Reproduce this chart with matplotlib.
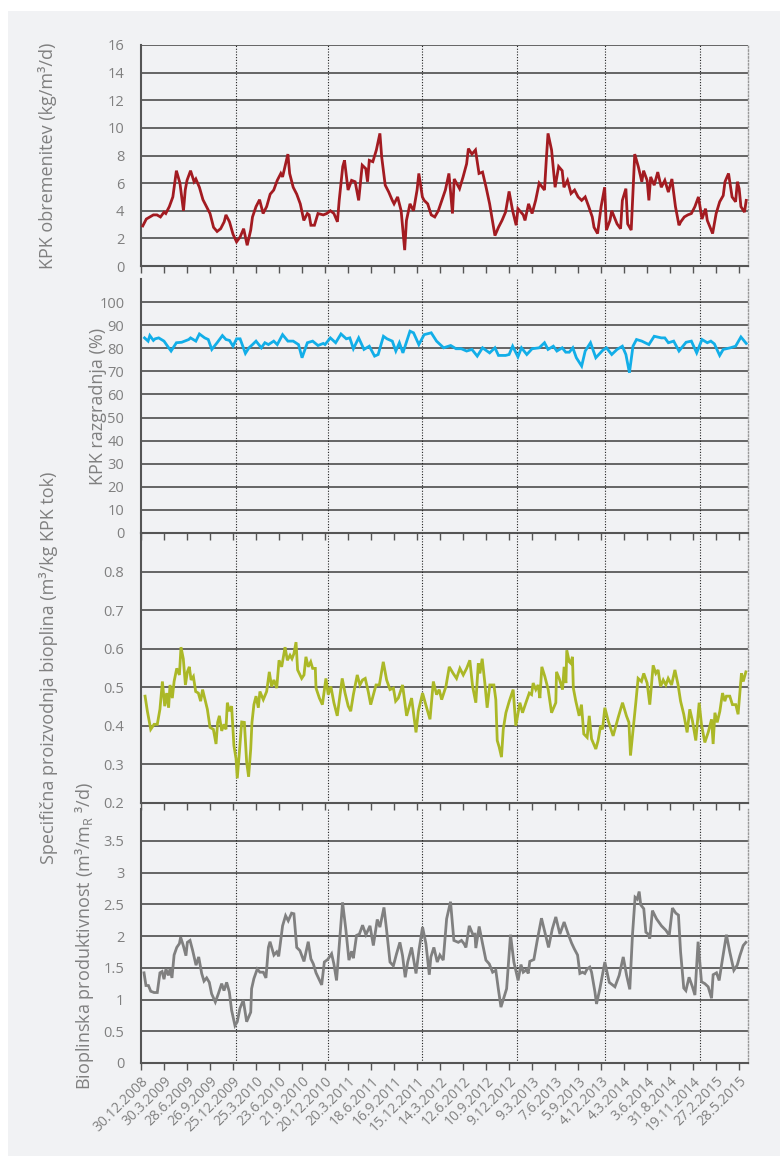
import matplotlib
matplotlib.use("Agg")
import matplotlib.pyplot as plt
from matplotlib.patches import Rectangle

plt.rcParams['font.family'] = ['Open Sans', 'DejaVu Sans']
plt.rcParams['mathtext.fontset'] = 'custom'
plt.rcParams['mathtext.rm'] = 'Open Sans'

# ---------------- data ----------------
tick_labels = ["30.12.2008", "30.3.2009", "28.6.2009", "26.9.2009", "25.12.2009",
               "25.3.2010", "23.6.2010", "21.9.2010", "20.12.2010", "20.3.2011",
               "18.6.2011", "16.9.2011", "15.12.2011", "14.3.2012", "12.6.2012",
               "10.9.2012", "9.12.2012", "9.3.2013", "7.6.2013", "5.9.2013",
               "4.12.2013", "4.3.2014", "3.6.2014", "31.8.2014", "19.11.2014",
               "27.2.2015", "28.5.2015"]
weeks_per_label = 13          # one label every 13 weekly samples
n_weeks = 343
year_marks = [53.9, 105.5, 159.0, 212.6, 262.2, 316.1]   # week index of new year

# (week, value) pairs
kpk_obremenitev = [
    (1, 2.9), (3, 3.4), (5, 3.55), (7, 3.7), (9, 3.7), (11, 3.55), (13, 3.9), (14, 3.8),
    (16, 4.3), (18, 5.0), (20, 6.9), (22, 6.0), (24, 4.0), (25, 5.5), (26, 6.2), (28, 6.9),
    (30, 6.1), (31, 6.3), (33, 5.7), (35, 4.8), (37, 4.3), (39, 3.8), (41, 2.8), (43, 2.5),
    (45, 2.7), (47, 3.2), (48, 3.7), (50, 3.2), (52, 2.3), (54, 1.75), (56, 2.1), (58, 2.7),
    (60, 1.5), (62, 2.6), (63, 3.55), (65, 4.3), (67, 4.8), (69, 3.8), (71, 4.3), (73, 5.2),
    (75, 5.5), (77, 6.2), (79, 6.7), (80, 6.45), (83, 8.1), (84, 6.7), (86, 5.7), (88, 5.2),
    (90, 4.5), (92, 3.3), (94, 3.8), (95, 3.7), (96, 2.95), (98, 2.95), (100, 3.8), (103, 3.7),
    (105, 3.8), (107, 4.0), (109, 3.8), (111, 3.2), (112, 4.75), (114, 7.2), (115, 7.65),
    (117, 5.5), (119, 6.2), (121, 6.1), (123, 4.75), (125, 7.3), (127, 7.05), (128, 6.1),
    (129, 7.65), (131, 7.55), (133, 8.4), (135, 9.6), (136, 7.9), (138, 5.85), (140, 5.35),
    (142, 4.75), (143, 4.5), (145, 5.0), (147, 4.0), (149, 1.15), (150, 3.3), (152, 4.5),
    (154, 4.0), (156, 5.5), (157, 6.7), (159, 5.0), (160, 4.75), (162, 4.5), (164, 3.7),
    (166, 3.55), (168, 4.0), (170, 4.75), (172, 5.5), (174, 6.7), (176, 3.8), (177, 6.3),
    (180, 5.6), (182, 6.45), (184, 7.4), (185, 8.5), (187, 8.1), (189, 8.4), (191, 6.7),
    (193, 6.8), (195, 5.7), (197, 4.5), (199, 2.95), (200, 2.2), (202, 2.8), (204, 3.3),
    (206, 3.9), (208, 5.4), (210, 4.0), (212, 2.95), (213, 4.15), (216, 3.7), (217, 3.3),
    (219, 4.5), (221, 3.8), (223, 4.75), (225, 6.0), (228, 5.5), (229, 7.65), (230, 9.6),
    (232, 8.4), (234, 5.7), (236, 7.2), (238, 6.9), (239, 5.7), (241, 6.2), (243, 5.25),
    (245, 5.5), (247, 5.0), (249, 4.75), (251, 5.0), (253, 4.3), (255, 3.55), (256, 2.8),
    (258, 2.35), (260, 4.3), (262, 5.7), (263, 2.6), (265, 3.3), (266, 4.0), (269, 3.05),
    (271, 2.7), (272, 4.75), (274, 5.6), (275, 3.05), (277, 2.6), (279, 8.1), (281, 7.2),
    (283, 6.1), (284, 6.9), (286, 6.2), (287, 4.75), (288, 6.45), (290, 5.85), (292, 6.8),
    (294, 5.7), (296, 6.2), (298, 5.35), (300, 6.3), (302, 4.3), (304, 2.95), (305, 3.2),
    (307, 3.55), (309, 3.7), (311, 3.8), (313, 4.3), (315, 5.0), (317, 3.4), (319, 4.15),
    (320, 3.3), (323, 2.35), (325, 3.8), (327, 4.65), (329, 5.1), (330, 6.1), (332, 6.7),
    (334, 5.0), (336, 4.65), (337, 6.1), (338, 5.6), (339, 4.3), (341, 3.9), (342, 4.75),
]

kpk_razgradnja = [
    (2, 84.5), (4, 83.1), (5, 85.5), (7, 83.4), (8, 84.1), (10, 84.5), (13, 83.1), (15, 80.9),
    (17, 78.8), (20, 82.4), (23, 82.6), (27, 83.8), (28, 84.5), (31, 83.1), (33, 86.2), (36, 84.5),
    (38, 83.8), (40, 79.5), (43, 82.4), (46, 85.5), (48, 83.8), (50, 83.4), (52, 80.9), (54, 84.1),
    (56, 84.1), (59, 77.8), (61, 80.2), (63, 81.6), (65, 83.1), (68, 80.2), (70, 82.4), (72, 81.6),
    (75, 83.1), (77, 81.6), (80, 85.9), (83, 83.1), (86, 83.1), (89, 81.6), (91, 75.9), (94, 82.4),
    (97, 83.1), (100, 81.2), (103, 82.1), (104, 81.6), (107, 84.5), (110, 82.4), (113, 86.2),
    (116, 84.1), (118, 84.5), (120, 79.8), (123, 84.5), (126, 79.5), (129, 80.9), (132, 76.6),
    (134, 77.3), (137, 85.2), (139, 84.1), (142, 83.1), (144, 78.8), (146, 82.4), (148, 78.0),
    (152, 87.4), (154, 86.7), (157, 81.6), (160, 85.9), (164, 86.7), (167, 83.1), (171, 80.2),
    (175, 81.2), (178, 79.8), (181, 79.8), (184, 78.8), (187, 79.5), (190, 76.6), (193, 80.2),
    (197, 78.0), (200, 80.2), (202, 76.9), (206, 76.9), (208, 77.3), (210, 80.9), (213, 76.3),
    (215, 80.2), (218, 77.3), (221, 79.8), (225, 80.2), (228, 82.4), (230, 79.5), (233, 80.9),
    (235, 78.8), (238, 80.2), (240, 78.3), (242, 78.3), (244, 80.2), (246, 75.9), (249, 72.3),
    (251, 78.8), (254, 82.4), (257, 75.9), (261, 79.2), (263, 80.2), (266, 77.3), (269, 79.5),
    (272, 80.9), (274, 77.3), (276, 69.4), (278, 80.9), (280, 83.8), (283, 83.1), (287, 81.6),
    (290, 85.2), (294, 84.5), (296, 84.5), (298, 82.4), (301, 83.1), (304, 78.8), (308, 82.6),
    (311, 83.1), (314, 78.0), (317, 83.8), (320, 82.4), (322, 83.1), (324, 81.9), (327, 76.9),
    (329, 79.5), (333, 80.2), (336, 80.9), (339, 84.9), (342, 82.1),
]

spec_proizvodnja = [
    (2.3, 0.477), (3.6, 0.438), (5.5, 0.391), (7.4, 0.404), (9.2, 0.404), (10.7, 0.443),
    (12.1, 0.515), (13.4, 0.451), (14.5, 0.485), (15.6, 0.447), (16.4, 0.506), (17.7, 0.472),
    (18.7, 0.515), (20.2, 0.549), (21.7, 0.532), (22.6, 0.604), (23.9, 0.574), (25.1, 0.506),
    (26.2, 0.540), (27.3, 0.553), (28.3, 0.519), (29.6, 0.528), (30.9, 0.489), (32.4, 0.485),
    (33.7, 0.464), (34.8, 0.494), (36.2, 0.468), (37.5, 0.443), (39.0, 0.396), (40.9, 0.391),
    (42.4, 0.353), (43.3, 0.409), (44.3, 0.426), (45.6, 0.387), (46.9, 0.404), (48.0, 0.391),
    (48.8, 0.460), (49.9, 0.438), (51.2, 0.451), (52.5, 0.349), (53.7, 0.315), (54.4, 0.264),
    (55.6, 0.332), (56.9, 0.410), (58.4, 0.409), (59.7, 0.306), (60.8, 0.268), (62.0, 0.340),
    (62.7, 0.409), (63.8, 0.455), (65.0, 0.477), (66.3, 0.447), (67.2, 0.489), (69.1, 0.468),
    (71.0, 0.489), (72.5, 0.540), (73.8, 0.502), (75.1, 0.519), (76.7, 0.498), (78.0, 0.570),
    (79.5, 0.553), (81.4, 0.604), (82.7, 0.570), (84.2, 0.583), (85.3, 0.574), (86.4, 0.587),
    (87.6, 0.617), (88.5, 0.545), (90.8, 0.523), (92.1, 0.532), (93.2, 0.579), (94.5, 0.553),
    (95.9, 0.566), (97.0, 0.549), (98.5, 0.549), (98.9, 0.498), (100.8, 0.472), (102.5, 0.455),
    (104.5, 0.523), (105.8, 0.481), (107.3, 0.502), (109.0, 0.460), (110.9, 0.426), (113.7, 0.523),
    (115.3, 0.485), (117.1, 0.451), (118.5, 0.438), (120.0, 0.481), (122.2, 0.532), (123.7, 0.506),
    (125.2, 0.519), (126.7, 0.523), (128.4, 0.489), (129.8, 0.455), (131.3, 0.481), (132.8, 0.506),
    (134.7, 0.506), (136.9, 0.566), (138.8, 0.519), (140.7, 0.494), (142.6, 0.498), (143.9, 0.464),
    (145.4, 0.472), (147.8, 0.506), (150.1, 0.426), (152.9, 0.472), (155.4, 0.383), (156.7, 0.438),
    (159.1, 0.485), (161.4, 0.447), (163.3, 0.417), (165.2, 0.515), (167.0, 0.481), (168.5, 0.494),
    (169.9, 0.468), (172.3, 0.502), (174.2, 0.553), (176.4, 0.536), (178.3, 0.523), (180.2, 0.549),
    (182.1, 0.532), (184.0, 0.549), (185.8, 0.570), (187.4, 0.502), (189.2, 0.460), (190.6, 0.562),
    (191.5, 0.536), (192.8, 0.574), (194.3, 0.511), (195.6, 0.447), (197.1, 0.506), (199.4, 0.506),
    (200.5, 0.468), (201.3, 0.362), (202.4, 0.345), (203.7, 0.319), (204.7, 0.391), (206.2, 0.434),
    (208.1, 0.464), (210.3, 0.494), (211.8, 0.400), (214.1, 0.460), (215.6, 0.434), (217.5, 0.460),
    (219.4, 0.485), (220.7, 0.481), (221.6, 0.511), (223.1, 0.494), (224.4, 0.506), (225.4, 0.472),
    (226.5, 0.553), (228.2, 0.528), (230.1, 0.494), (232.0, 0.434), (234.4, 0.460), (234.8, 0.540),
    (236.3, 0.523), (238.2, 0.494), (239.1, 0.553), (240.1, 0.511), (240.6, 0.596), (242.0, 0.566),
    (242.9, 0.562), (243.8, 0.579), (244.3, 0.498), (245.7, 0.464), (247.6, 0.426), (248.9, 0.455),
    (250.2, 0.379), (252.1, 0.370), (253.3, 0.426), (254.6, 0.366), (257.0, 0.340), (258.3, 0.362),
    (259.7, 0.400), (260.8, 0.391), (262.1, 0.447), (264.0, 0.413), (266.8, 0.374), (269.6, 0.421),
    (272.1, 0.460), (274.3, 0.426), (275.7, 0.409), (276.6, 0.323), (278.1, 0.391), (279.6, 0.460),
    (280.9, 0.523), (282.8, 0.515), (284.1, 0.536), (286.0, 0.511), (287.5, 0.455), (289.4, 0.557),
    (290.9, 0.536), (292.2, 0.545), (293.6, 0.502), (295.1, 0.519), (296.6, 0.506), (297.9, 0.523),
    (299.8, 0.506), (301.7, 0.545), (303.5, 0.506), (304.9, 0.464), (306.7, 0.430), (308.6, 0.383),
    (310.1, 0.443), (311.6, 0.413), (313.5, 0.362), (315.4, 0.460), (316.7, 0.404), (318.6, 0.357),
    (320.5, 0.383), (322.4, 0.417), (323.3, 0.353), (324.3, 0.434), (325.6, 0.409), (327.1, 0.438),
    (328.6, 0.485), (329.9, 0.464), (330.8, 0.477), (332.7, 0.477), (334.2, 0.455), (336.1, 0.455),
    (337.4, 0.430), (339.3, 0.536), (340.3, 0.515), (341.8, 0.540),
]

bioplin_produktivnost = [
    (1.7, 1.42), (2.8, 1.22), (4.2, 1.22), (5.5, 1.13), (7.4, 1.11), (9.2, 1.11), (10.7, 1.42),
    (11.9, 1.44), (13.0, 1.32), (14.1, 1.48), (15.5, 1.38), (16.4, 1.48), (17.5, 1.34), (18.7, 1.70),
    (20.2, 1.82), (21.7, 1.88), (22.4, 1.98), (23.9, 1.85), (25.4, 1.69), (26.2, 1.90), (27.7, 1.93),
    (29.2, 1.77), (31.1, 1.54), (32.6, 1.67), (34.3, 1.41), (35.6, 1.29), (37.1, 1.34), (38.6, 1.27),
    (39.9, 1.09), (42.0, 0.96), (43.7, 1.09), (45.6, 1.25), (46.9, 1.14), (48.4, 1.27), (49.9, 1.12),
    (51.2, 0.83), (53.1, 0.59), (54.4, 0.65), (55.9, 0.86), (57.8, 0.99), (59.7, 0.65), (62.0, 0.80),
    (62.5, 1.17), (63.8, 1.33), (65.7, 1.48), (67.2, 1.43), (69.1, 1.43), (70.6, 1.34), (72.0, 1.82),
    (72.9, 1.91), (75.1, 1.70), (76.7, 1.75), (77.8, 1.68), (80.0, 2.16), (81.7, 2.32), (83.2, 2.24),
    (85.1, 2.36), (86.4, 2.35), (88.0, 1.82), (89.8, 1.77), (92.1, 1.60), (94.5, 1.91), (96.0, 1.64),
    (97.4, 1.56), (98.9, 1.42), (102.1, 1.23), (103.6, 1.59), (105.5, 1.63), (107.7, 1.72),
    (109.0, 1.56), (110.5, 1.30), (113.9, 2.53), (115.8, 2.09), (117.5, 1.62), (119.0, 1.76),
    (120.0, 1.65), (121.8, 2.01), (123.4, 2.03), (125.2, 2.17), (127.1, 2.02), (129.4, 2.16),
    (131.3, 1.85), (133.5, 2.26), (135.0, 2.14), (137.3, 2.45), (138.8, 2.09), (140.7, 1.59),
    (142.6, 1.53), (144.4, 1.72), (146.3, 1.90), (147.8, 1.69), (149.3, 1.35), (150.7, 1.59),
    (152.9, 1.82), (155.4, 1.41), (157.2, 1.80), (159.1, 2.14), (161.0, 1.88), (162.9, 1.39),
    (163.8, 1.67), (165.5, 1.82), (167.4, 1.59), (168.9, 1.70), (170.8, 1.62), (172.7, 2.27),
    (174.9, 2.54), (176.8, 1.93), (179.3, 1.90), (181.1, 1.93), (182.5, 1.88), (183.6, 1.82),
    (185.5, 2.16), (187.4, 2.03), (188.7, 2.03), (189.2, 1.81), (191.1, 2.15), (193.0, 1.88),
    (194.9, 1.62), (196.8, 1.56), (198.7, 1.43), (200.5, 1.46), (201.9, 1.17), (203.4, 0.88),
    (206.6, 1.17), (208.8, 2.02), (210.7, 1.59), (213.1, 1.30), (214.7, 1.55), (216.0, 1.43),
    (217.9, 1.47), (218.8, 1.41), (219.7, 1.60), (222.0, 1.63), (223.9, 1.93), (226.3, 2.28),
    (228.2, 2.06), (230.3, 1.82), (232.4, 2.11), (234.4, 2.30), (236.7, 2.03), (239.1, 2.22),
    (241.4, 2.03), (243.3, 1.89), (244.8, 1.80), (246.7, 1.70), (248.0, 1.41), (249.5, 1.43),
    (250.8, 1.41), (252.1, 1.48), (253.6, 1.51), (254.6, 1.43), (256.5, 1.12), (257.4, 0.93),
    (259.3, 1.17), (262.1, 1.59), (264.6, 1.27), (267.8, 1.20), (270.2, 1.38), (272.5, 1.67),
    (274.4, 1.38), (276.2, 1.16), (277.7, 2.01), (279.2, 2.61), (280.4, 2.58), (281.5, 2.70),
    (282.4, 2.49), (284.1, 2.43), (285.3, 2.06), (286.6, 2.03), (287.5, 1.96), (289.0, 2.40),
    (291.3, 2.27), (294.1, 2.16), (296.6, 2.09), (298.5, 2.01), (300.3, 2.44), (302.2, 2.36),
    (303.7, 2.33), (304.9, 1.75), (306.7, 1.18), (307.9, 1.14), (309.7, 1.35), (311.6, 1.20),
    (313.0, 1.07), (314.8, 1.91), (316.7, 1.28), (318.6, 1.25), (320.5, 1.20), (322.4, 1.02),
    (323.3, 1.39), (325.2, 1.42), (326.7, 1.30), (328.6, 1.64), (330.8, 2.02), (332.7, 1.75),
    (335.0, 1.46), (336.9, 1.54), (338.4, 1.69), (340.3, 1.85), (341.8, 1.90),
]

panels = [
    dict(data=kpk_obremenitev, color="#a31b21", ylim=(0, 16), yticks=[0, 2, 4, 6, 8, 10, 12, 14, 16],
         yticklabels=None, label="KPK obremenitev (kg/m³/d)"),
    dict(data=kpk_razgradnja, color="#12aee8", ylim=(0, 110), yticks=list(range(0, 101, 10)),
         yticklabels=None, label="KPK razgradnja (%)"),
    dict(data=spec_proizvodnja, color="#abb827", ylim=(0.2, 0.9),
         yticks=[0.2, 0.3, 0.4, 0.5, 0.6, 0.7, 0.8],
         yticklabels=["0.2", "0.3", "0.4", "0.5", "0.6", "0.7", "0.8"],
         label="Specifična proizvodnja bioplina (m³/kg KPK tok)"),
    dict(data=bioplin_produktivnost, color="#808080", ylim=(0, 4),
         yticks=[0, 0.5, 1, 1.5, 2, 2.5, 3, 3.5],
         yticklabels=["0", "0.5", "1", "1.5", "2", "2.5", "3", "3.5"],
         label="Bioplinska produktivnost (m³/m$_\\mathregular{R}$ ³/d)"),
]

# ---------------- layout (pixels) ----------------
W, H = 780, 1156
fig = plt.figure(figsize=(W / 100, H / 100), dpi=100)
fig.patch.set_facecolor("white")
fig.patches.append(Rectangle((8 / W, 0), 1 - 8 / W, 1 - 11 / H, transform=fig.transFigure,
                             facecolor="#f1f2f4", edgecolor="none", zorder=-10))

x_left, x_right = 141, 748
boxes = [(45, 266), (279, 533), (533, 803), (809, 1063)]
label_x = [48, 98, 49, 85]

text_col = "#808080"
grid_col = "#5a5a5a"
axis_col = "#555555"

for i, (p, (top, bot)) in enumerate(zip(panels, boxes)):
    ax = fig.add_axes([x_left / W, 1 - bot / H, (x_right - x_left) / W, (bot - top) / H])
    ax.set_facecolor("none")
    xs = [d[0] for d in p["data"]]
    ys = [d[1] for d in p["data"]]
    ax.set_xlim(0, n_weeks)
    ax.set_ylim(*p["ylim"])
    for yv in p["yticks"]:
        ax.axhline(yv, color=grid_col, lw=1.3, zorder=1)
    for xm in year_marks:
        ax.axvline(xm, color="#222222", lw=0.8, ls=(0, (1, 1.5)), zorder=1)
    ax.plot(xs, ys, color=p["color"], lw=2.0, zorder=3, solid_joinstyle="miter")

    ax.set_yticks(p["yticks"])
    if p["yticklabels"] is not None:
        ax.set_yticklabels(p["yticklabels"])
    ax.tick_params(axis="y", length=0, pad=12, labelsize=10.5, labelcolor=text_col)
    ticks = [k * weeks_per_label for k in range(len(tick_labels))]
    ax.set_xticks(ticks)
    ax.tick_params(axis="x", direction="out", length=5, width=1, color=axis_col)
    if i == len(panels) - 1:
        ax.set_xticklabels(tick_labels, rotation=45, ha="right", va="top",
                           rotation_mode="anchor", fontsize=10, color=text_col)
        ax.tick_params(axis="x", pad=3)
    else:
        ax.set_xticklabels([])

    for s in ["top"]:
        ax.spines[s].set_visible(False)
    ax.spines["left"].set_color(axis_col)
    ax.spines["left"].set_linewidth(1.5)
    ax.spines["bottom"].set_color(axis_col)
    ax.spines["bottom"].set_linewidth(1.5)
    ax.spines["right"].set_color("#999999")
    ax.spines["right"].set_linewidth(1.0)
    ax.spines["right"].set_linestyle((0, (1, 1.5)))

    fig.text(label_x[i] / W, 1 - (top + bot) / 2 / H, p["label"], rotation=90,
             ha="center", va="center", fontsize=13, color=text_col)

fig.savefig("out.png", dpi=100, facecolor=fig.get_facecolor())
